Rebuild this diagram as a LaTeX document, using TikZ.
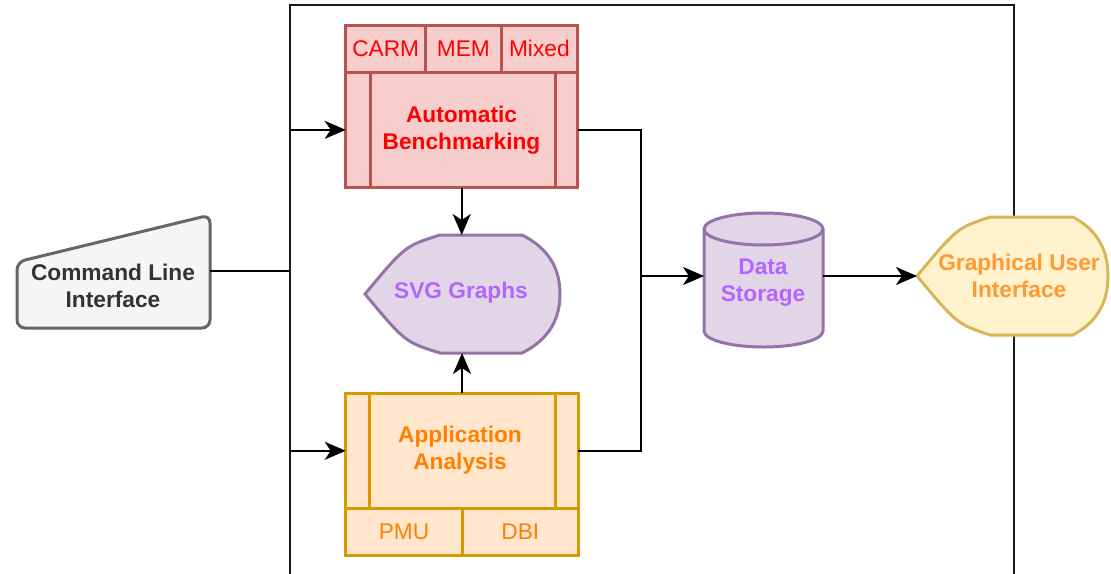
\documentclass[tikz,border=0pt]{standalone}
\usepackage{fontspec}
\setmainfont{Liberation Sans}
\usetikzlibrary{arrows.meta}

\definecolor{abfill}{HTML}{F8CECC}
\definecolor{abline}{HTML}{B85450}
\definecolor{abtext}{HTML}{FF0000}
\definecolor{aafill}{HTML}{FFE6CC}
\definecolor{aaline}{HTML}{D79B00}
\definecolor{aatext}{HTML}{FF8000}
\definecolor{pufill}{HTML}{E1D5E7}
\definecolor{puline}{HTML}{9673A6}
\definecolor{putext}{HTML}{B266FF}
\definecolor{yefill}{HTML}{FFF2CC}
\definecolor{yeline}{HTML}{D6B656}
\definecolor{yetext}{HTML}{FF9933}
\definecolor{grfill}{HTML}{F5F5F5}
\definecolor{grline}{HTML}{666666}
\definecolor{grtext}{HTML}{333333}
\definecolor{framecol}{HTML}{1A1A1A}

\begin{document}
\begin{tikzpicture}[x=1pt,y=-1pt,
  txt/.style={font=\fontsize{22.7}{27}\selectfont, align=center, inner sep=0pt, outer sep=0pt},
  btxt/.style={font=\fontsize{22.7}{27}\selectfont\bfseries, align=center, inner sep=0pt, outer sep=0pt},
  cell/.style={inner sep=0pt, outer sep=0pt, line width=3pt},
  abcell/.style={cell, draw=abline, fill=abfill, text=abtext},
  aacell/.style={cell, draw=aaline, fill=aafill, text=aatext},
  slot/.style={inner sep=0pt, outer sep=0pt},
  conn/.style={line width=2.2pt, draw=black},
  arr/.style={conn, -{Stealth[length=21pt, width=18pt, inset=6pt]}},
  frame/.style={line width=2.5pt, draw=framecol},
]
\useasboundingbox (0,0) rectangle (1111,573);

% outer system boundary (open at the bottom)
\coordinate (ftl) at (290,5);
\coordinate (ftr) at (1014,5);
\coordinate (fbl) at (290,575);
\coordinate (fbr) at (1014,575);
\begin{scope}
\clip (0,0) rectangle (1111,573);
\draw[frame] (fbl) -- (ftl) -- (ftr) -- (fbr);
\end{scope}

% command line interface (manual input shape)
\node[slot, minimum width=193pt, minimum height=113pt] (cli) at (113.5,271) {};
\draw[line width=3pt, draw=grline, fill=grfill, rounded corners=8pt]
  (17,295) -- (17,262) -- (210,215) -- (210,328) -- (17,328) -- cycle;
\node[btxt, text=grtext] (clitxt) at (113,285.5) {Command Line\\Interface};

% automatic benchmarking block with its three modes
\node[abcell, minimum width=80pt, minimum height=46.3pt] (carm) at (385.7,48.85) {};
\node[abcell, minimum width=75.3pt, minimum height=46.3pt] (mem) at (463.35,48.85) {};
\node[abcell, minimum width=76.7pt, minimum height=46.3pt] (mixed) at (539.35,48.85) {};
\node[txt, text=abtext] at (carm) {CARM};
\node[txt, text=abtext] at (mem) {MEM};
\node[txt, text=abtext] at (mixed) {Mixed};
\node[abcell, minimum width=232pt, minimum height=115.7pt] (abm) at (461.7,129.85) {};
\draw[abline, line width=3pt] ([xshift=24.3pt]abm.north west) -- ([xshift=24.3pt]abm.south west);
\draw[abline, line width=3pt] ([xshift=-22.4pt]abm.north east) -- ([xshift=-22.4pt]abm.south east);
\node[btxt, text=abtext] (abtxt) at (461.5,130) {Automatic\\Benchmarking};

% application analysis block with its two tools
\node[aacell, minimum width=232.6pt, minimum height=115pt] (aam) at (462,450.8) {};
\draw[aaline, line width=3pt] ([xshift=23.6pt]aam.north west) -- ([xshift=23.6pt]aam.south west);
\draw[aaline, line width=3pt] ([xshift=-23.3pt]aam.north east) -- ([xshift=-23.3pt]aam.south east);
\node[aacell, minimum width=116.6pt, minimum height=46.7pt] (pmu) at (404,531.65) {};
\node[aacell, minimum width=116pt, minimum height=46.7pt] (dbi) at (520.3,531.65) {};
\node[txt, text=aatext] at (pmu) {PMU};
\node[txt, text=aatext] at (dbi) {DBI};
\node[btxt, text=aatext] (aatxt) at (460,450) {Application\\Analysis};

% SVG graphs (display shape)
\node[slot, minimum width=195pt, minimum height=118pt] (svg) at (462.5,294) {};
\draw[line width=3pt, draw=puline, fill=pufill]
  (365,294) .. controls (405,246) .. (440,235) -- (522,235)
  .. controls (550,249) and (560,270) .. (560,294)
  .. controls (560,318) and (550,339) .. (522,353) -- (440,353)
  .. controls (405,342) .. (365,294) -- cycle;
\node[btxt, text=putext] (svgtxt) at (461,293) {SVG Graphs};

% data storage (cylinder)
\node[slot, minimum width=119pt, minimum height=134pt] (ds) at (763.5,280) {};
\draw[line width=3pt, draw=puline, fill=pufill]
  (704,229) -- (704,331) arc[start angle=180, end angle=360, x radius=59.5pt, y radius=16pt]
  -- (823,229) arc[start angle=0, end angle=180, x radius=59.5pt, y radius=16pt] -- cycle;
\draw[line width=3pt, draw=puline]
  (704,229) arc[start angle=180, end angle=360, x radius=59.5pt, y radius=16pt];
\node[btxt, text=putext] (dstxt) at (763,283) {Data\\Storage};

% graphical user interface (display shape)
\node[slot, minimum width=191pt, minimum height=118pt] (gui) at (1012.5,276) {};
\draw[line width=3pt, draw=yeline, fill=yefill]
  (917,276) .. controls (957,228) .. (990,217) -- (1073,217)
  .. controls (1099,231) and (1108,252) .. (1108,276)
  .. controls (1108,300) and (1099,321) .. (1073,335) -- (990,335)
  .. controls (957,324) .. (917,276) -- cycle;
\node[btxt, text=yetext] (guitxt) at (1019,276) {Graphical User\\Interface};

% connectors
\coordinate (jr) at (641,276);
\draw[conn] (cli.east) -- (cli.east -| ftl);
\draw[arr] (abm.west -| ftl) -- (abm.west);
\draw[arr] (aam.west -| ftl) -- (aam.west);
\draw[arr] (abm.south) -- (abm.south |- svg.north);
\draw[arr] (aam.north) -- (aam.north |- svg.south);
\draw[conn] (abm.east) -| (jr);
\draw[conn] (aam.east) -| (jr);
\draw[arr] (jr) -- (jr -| ds.west);
\draw[arr] (ds.east |- gui.west) -- (gui.west);
\end{tikzpicture}
\end{document}
